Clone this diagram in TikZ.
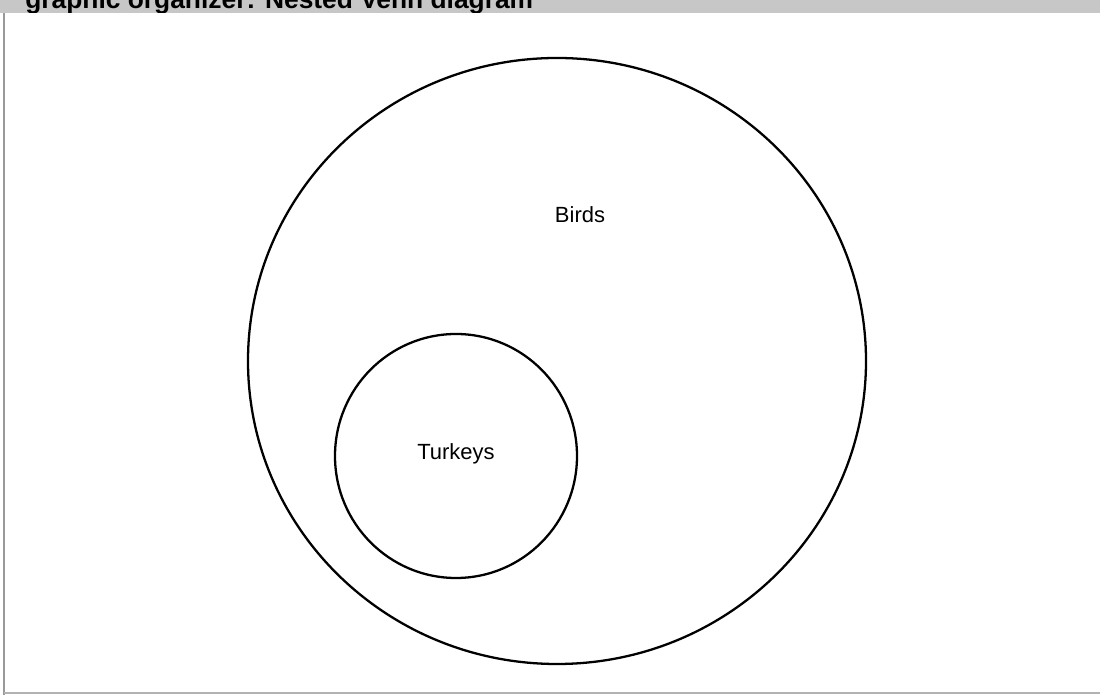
\documentclass[tikz,border=0pt]{standalone}
\usepackage{fontspec}
\setmainfont{Liberation Sans}
\usetikzlibrary{shapes.geometric}

\tikzset{
  setring/.style={draw, ellipse, line width=1.3pt, inner sep=0pt},
  setlabel/.style={font=\fontsize{12.5}{14}\selectfont}
}

\begin{document}
\begin{tikzpicture}[scale=1.0]
		\useasboundingbox (0,0) rectangle (22,13.92);
		
		% scanned page frame (gray band on top, thin rules left and bottom)
		\fill[black!22] (0,13.66) rectangle (22,13.92);
		\draw[black!40, line width=0.8pt] (0.08,0.02) -- (0.08,13.66);
		\draw[black!30, line width=0.6pt] (0.08,0.06) -- (22,0.06);
		
		% heading, cut off at the top edge
		\begin{scope}
			\clip (0,13.66) rectangle (22,13.92);
			\node[anchor=base west, inner sep=0pt, font=\fontsize{15}{17}\bfseries\selectfont] (title) at (0.5,13.74) {graphic organizer: Nested Venn diagram};
		\end{scope}
		
		% outer set and nested subset
		\node[setring, minimum width=12.36cm, minimum height=12.12cm] (birdset) at (11.14,6.70) {};
		\node[setring, minimum width=4.84cm, minimum height=4.88cm] (turkeyset) at (9.12,4.80) {};
		
		% labels inside the sets
		\node[setlabel] (birds) at (11.6,9.62) {Birds};
		\node[setlabel] (turkeys) at (9.12,4.84) {Turkeys};
	\end{tikzpicture}
\end{document}
